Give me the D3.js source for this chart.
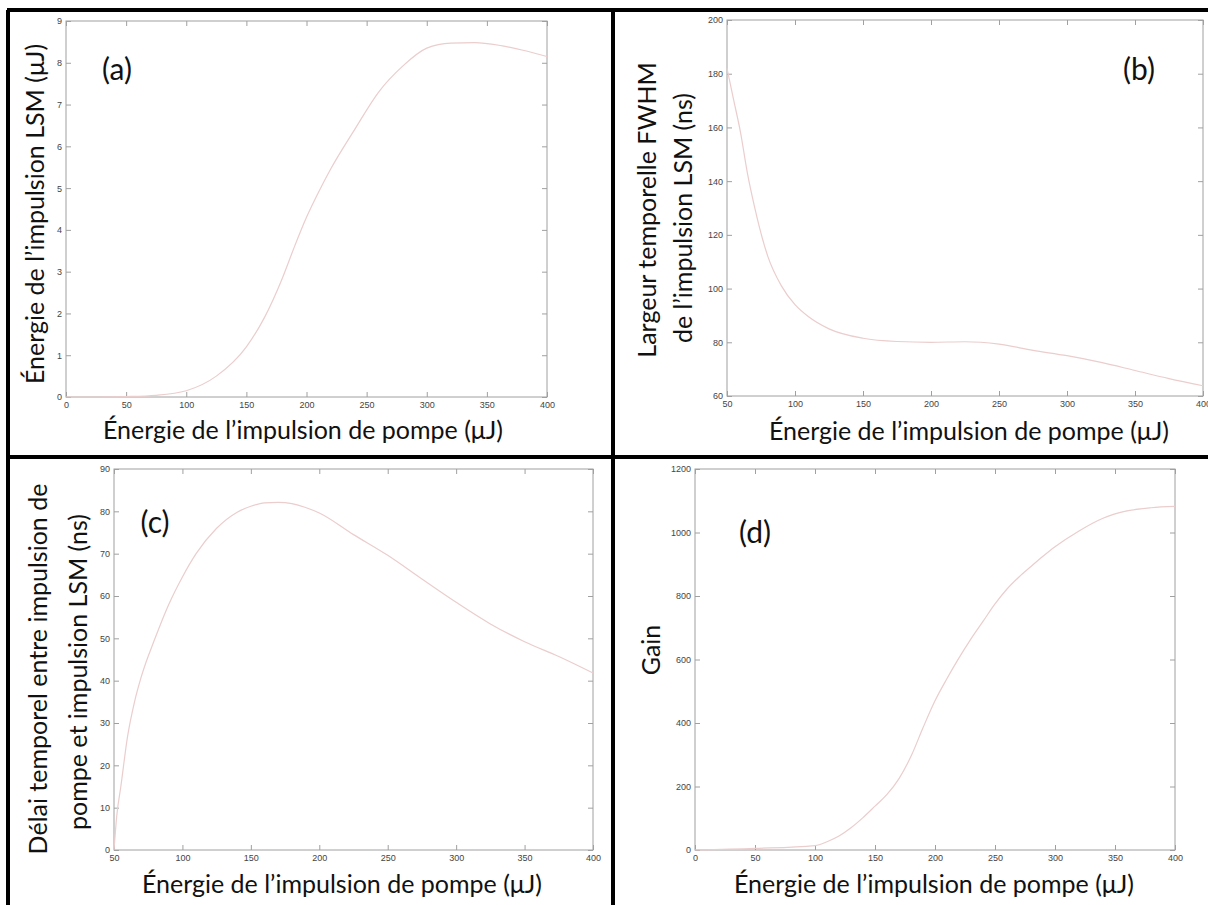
<!DOCTYPE html>
<html>
<head>
<meta charset="utf-8">
<script src="https://cdn.jsdelivr.net/npm/d3@7"></script>
<style>
  body { margin: 0; background: #fff; }
  svg { display: block; }
</style>
</head>
<body>
<div id="figure"></div>
<script>
// (a) Énergie de l'impulsion LSM (µJ) vs énergie de pompe
const pumpA   = [0, 25, 50, 75, 100, 125, 150, 165, 180, 190, 200, 210, 220, 240, 260, 280, 300, 320, 340, 360, 380, 400];
const energyA = [0, 0, 0.01, 0.04, 0.15, 0.5, 1.2, 1.9, 2.85, 3.6, 4.3, 4.9, 5.45, 6.4, 7.3, 7.92, 8.35, 8.47, 8.48, 8.42, 8.3, 8.15];

// (b) Largeur FWHM (ns)
const pumpB = [50, 55, 60, 65, 70, 80, 90, 100, 110, 125, 150, 175, 200, 225, 250, 275, 300, 325, 350, 375, 400];
const fwhmB = [182, 170, 158, 143, 131, 112, 101, 94, 89.5, 85, 81.5, 80.3, 80, 80.2, 79.3, 77, 75, 72.5, 69.5, 66.5, 63.8];

// (c) Délai temporel (ns)
const pumpC  = [50, 52, 55, 60, 65, 70, 80, 90, 100, 110, 125, 140, 150, 160, 170, 180, 190, 200, 225, 250, 275, 300, 325, 350, 375, 400];
const delayC = [0, 8, 15, 27, 35, 41, 50, 58, 64.5, 70, 76, 79.8, 81.2, 82, 82.1, 81.8, 80.9, 79.6, 74.5, 69.6, 64, 58.5, 53.4, 49.2, 45.7, 41.8];

// (d) Gain
const pumpD = [0, 50, 100, 110, 120, 130, 140, 150, 160, 170, 180, 190, 200, 210, 220, 230, 240, 250, 260, 270, 280, 290, 300, 320, 340, 360, 380, 400];
const gainD = [0, 5, 14, 26, 44, 70, 102, 138, 175, 225, 295, 385, 470, 540, 605, 665, 720, 775, 822, 860, 893, 925, 955, 1005, 1045, 1068, 1078, 1082];

// tick values
const ticksX0   = [0, 50, 100, 150, 200, 250, 300, 350, 400];
const ticksX50  = [50, 100, 150, 200, 250, 300, 350, 400];
const ticksYA   = [0, 1, 2, 3, 4, 5, 6, 7, 8, 9];
const ticksYB   = [60, 80, 100, 120, 140, 160, 180, 200];
const ticksYC   = [0, 10, 20, 30, 40, 50, 60, 70, 80, 90];
const ticksYD   = [0, 200, 400, 600, 800, 1000, 1200];

const xTitle = "Énergie de l’impulsion de pompe (μJ)";

const svg = d3.select("#figure")
    .append("svg")
    .attr("width", 1208)
    .attr("height", 905);

svg.append("rect").attr("width", 1208).attr("height", 905).attr("fill", "#fff");

const panels = [
    { label: "(a)", lx: 117, ly: 80, box: [66, 547, 21, 397], xd: [0, 400], yd: [0, 9],
      xs: pumpA, ys: energyA, xt: ticksX0, yt: ticksYA,
      xtx: 303, xty: 439, ytl: [{ t: "Énergie de l’impulsion LSM (μJ)", x: 34, y: 214 }] },
    { label: "(b)", lx: 1139, ly: 80, box: [727, 1203, 20, 396], xd: [50, 400], yd: [60, 200],
      xs: pumpB, ys: fwhmB, xt: ticksX50, yt: ticksYB,
      xtx: 969, xty: 440, ytl: [{ t: "Largeur temporelle FWHM", x: 646, y: 210 },
                                { t: "de l’impulsion LSM (ns)", x: 682, y: 218 }] },
    { label: "(c)", lx: 155, ly: 533, box: [114, 593, 469, 850], xd: [50, 400], yd: [0, 90],
      xs: pumpC, ys: delayC, xt: ticksX50, yt: ticksYC,
      xtx: 342, xty: 893, ytl: [{ t: "Délai temporel entre impulsion de", x: 37, y: 669 },
                                { t: "pompe et impulsion LSM (ns)", x: 77, y: 672 }] },
    { label: "(d)", lx: 755, ly: 543, box: [695, 1175, 469, 850], xd: [0, 400], yd: [0, 1200],
      xs: pumpD, ys: gainD, xt: ticksX0, yt: ticksYD,
      xtx: 934, xty: 893, ytl: [{ t: "Gain", x: 650, y: 650 }] }
];

panels.forEach(p => {
    const [x0, x1, y0, y1] = p.box;
    const x = d3.scaleLinear().domain(p.xd).range([x0, x1]);
    const y = d3.scaleLinear().domain(p.yd).range([y1, y0]);
    const g = svg.append("g");

    // plot box
    g.append("rect")
        .attr("x", x0).attr("y", y0)
        .attr("width", x1 - x0).attr("height", y1 - y0)
        .attr("fill", "none")
        .attr("stroke", "#a0a0a0")
        .attr("stroke-width", 1);

    // axes (MATLAB style, ticks inside)
    const style = sel => {
        sel.select(".domain").remove();
        sel.selectAll("line").attr("stroke", "#a0a0a0");
        sel.selectAll("text")
            .style("font-family", "'Liberation Sans', Arial, sans-serif")
            .style("font-size", "9px")
            .attr("fill", "#444");
    };
    g.append("g").attr("transform", `translate(0,${y1})`)
        .call(d3.axisBottom(x).tickValues(p.xt).tickSize(-5).tickPadding(5).tickFormat(d3.format("d")))
        .call(style);
    g.append("g").attr("transform", `translate(0,${y0})`)
        .call(d3.axisTop(x).tickValues(p.xt).tickSize(-5).tickFormat(""))
        .call(style);
    g.append("g").attr("transform", `translate(${x0},0)`)
        .call(d3.axisLeft(y).tickValues(p.yt).tickSize(-5).tickPadding(4).tickFormat(d3.format("d")))
        .call(style);
    g.append("g").attr("transform", `translate(${x1},0)`)
        .call(d3.axisRight(y).tickValues(p.yt).tickSize(-5).tickFormat(""))
        .call(style);

    // curve
    const line = d3.line()
        .x((d, i) => x(p.xs[i]))
        .y(d => y(d))
        .curve(d3.curveMonotoneX);
    g.append("path")
        .datum(p.ys)
        .attr("fill", "none")
        .attr("stroke", "#ebcdcd")
        .attr("stroke-width", 1.2)
        .attr("d", line);

    // panel label
    g.append("text")
        .attr("x", p.lx).attr("y", p.ly)
        .attr("text-anchor", "middle")
        .style("font-family", "Lato, 'Open Sans', sans-serif")
        .style("font-size", "30px")
        .attr("fill", "#111")
        .text(p.label);

    // x title
    g.append("text")
        .attr("x", p.xtx).attr("y", p.xty)
        .attr("text-anchor", "middle")
        .style("font-family", "Lato, 'Open Sans', sans-serif")
        .style("font-size", "25px")
        .attr("fill", "#111")
        .text(xTitle);

    // y title(s)
    p.ytl.forEach(t => {
        g.append("text")
            .attr("transform", `translate(${t.x},${t.y}) rotate(-90)`)
            .attr("text-anchor", "middle")
            .attr("dominant-baseline", "central")
            .style("font-family", "Lato, 'Open Sans', sans-serif")
            .style("font-size", "25px")
            .attr("fill", "#111")
            .text(t.t);
    });
});

// black frame lines between the four panels
const frame = [
    [7, 10, 1208, 10],
    [8, 10, 8, 905],
    [613, 10, 613, 905],
    [8, 457, 1208, 457]
];
svg.selectAll("line.frame")
    .data(frame)
    .enter()
    .append("line")
    .attr("class", "frame")
    .attr("x1", d => d[0]).attr("y1", d => d[1])
    .attr("x2", d => d[2]).attr("y2", d => d[3])
    .attr("stroke", "#000")
    .attr("stroke-width", 4);
</script>
</body>
</html>
